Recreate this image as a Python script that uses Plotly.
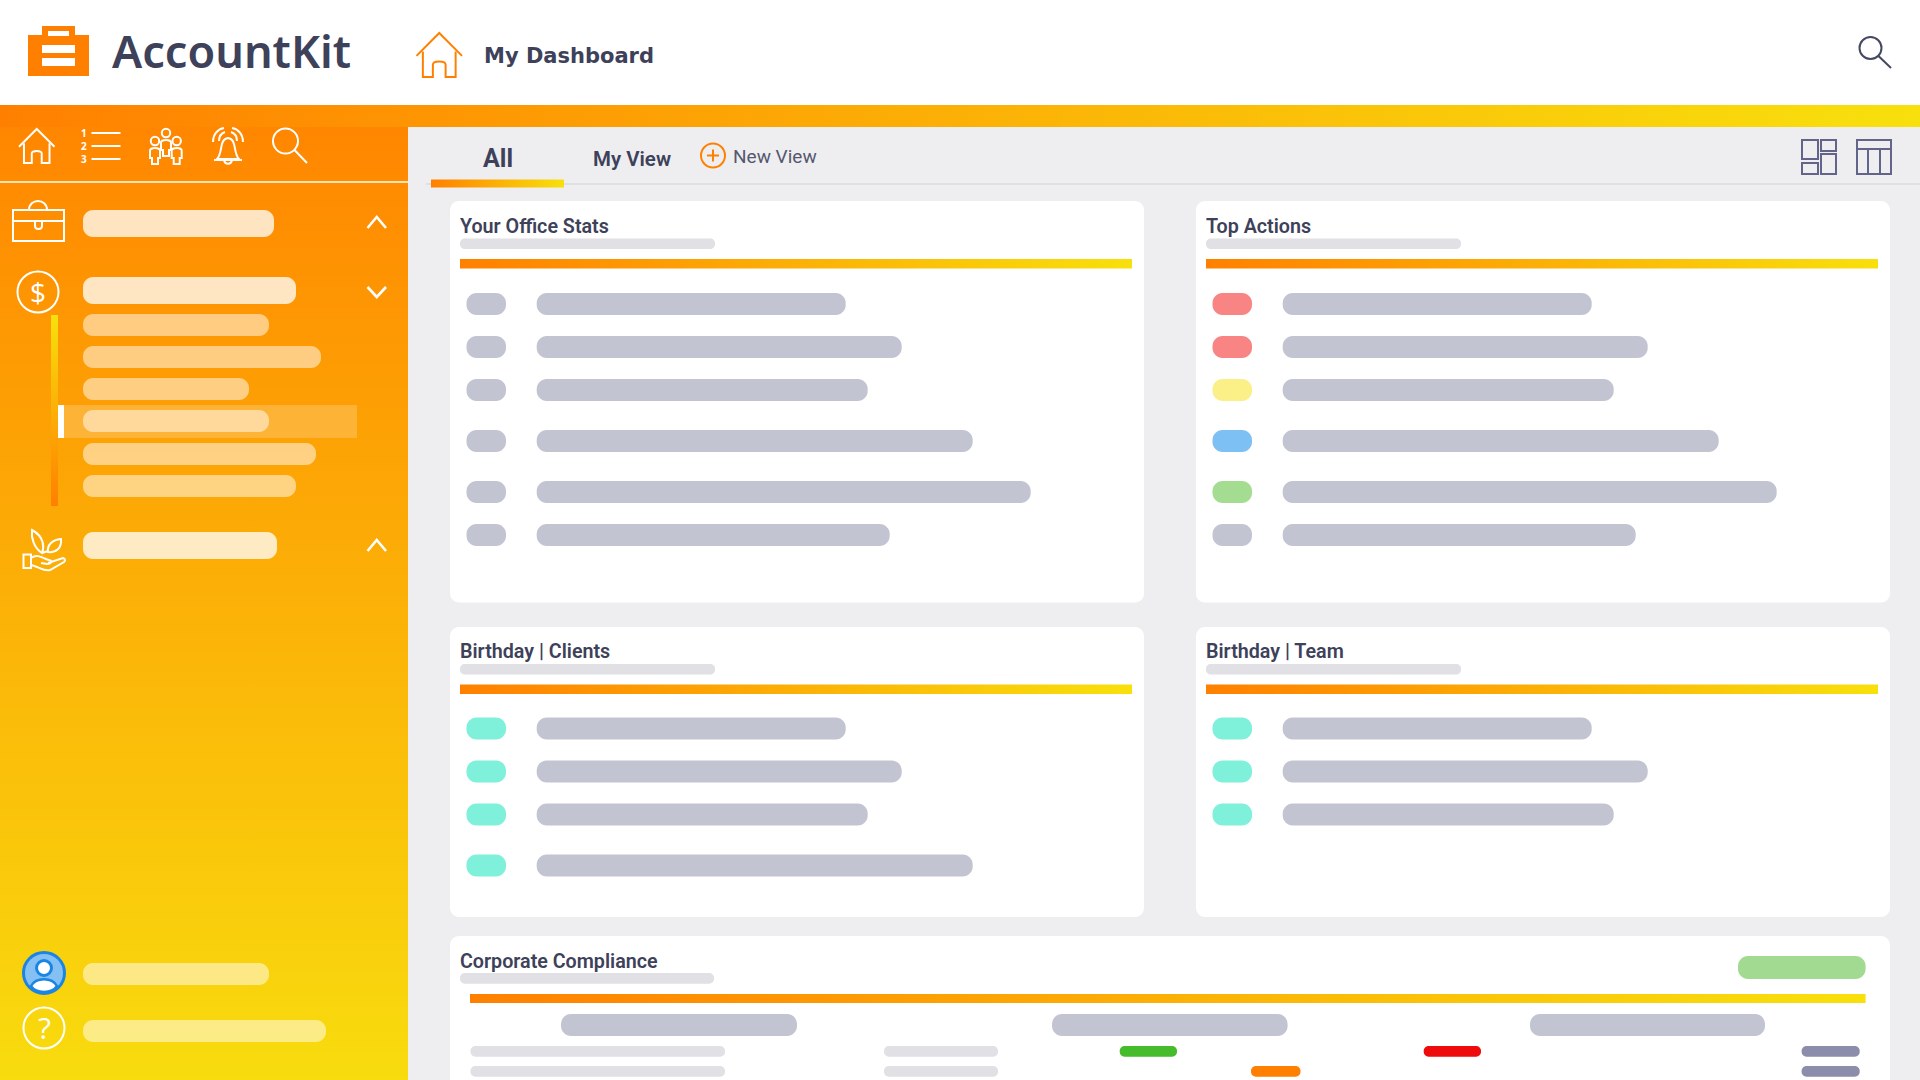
import plotly.graph_objects as go

# placeholder bar lengths
office_rows = [309, 365, 331, 436, 494, 353]
actions_rows = [309, 365, 331, 436, 494, 353]
clients_rows = [309, 365, 331, 436]
team_rows = [309, 365, 331]
nav_heads = [191, 213, 194]
nav_subs = [186, 238, 166, 186, 233, 213]
footer_rows = [186, 243]

office_tags = ['gray'] * 6
actions_tags = ['red', 'red', 'yellow', 'blue', 'green', 'gray']
clients_tags = ['teal'] * 4
team_tags = ['teal'] * 3

card_titles = ['Your Office Stats', 'Top Actions', 'Birthday | Clients', 'Birthday | Team', 'Corporate Compliance']
tab_labels = ['All', 'My View', 'New View']

TAG = {'gray': '#c3c4d2', 'red': '#f88484', 'yellow': '#fbf087', 'blue': '#7dc0f4', 'green': '#a4dc92', 'teal': '#7ff0da'}
INK = '#3d4159'
ORANGE = '#ff8000'
YELLOW = '#f8e00c'
BAR_GRAY = '#c3c4d2'
SUB_GRAY = '#e0e0e5'
SCALE = [[0, ORANGE], [1, YELLOW]]

shapes = []
traces = []
notes = []


def pill_path(x0, y0, x1, y1, r):
    k = r * 0.45
    return (f'M{x0+r},{y0} L{x1-r},{y0} C{x1-k},{y0} {x1},{y0+k} {x1},{y0+r} L{x1},{y1-r} '
            f'C{x1},{y1-k} {x1-k},{y1} {x1-r},{y1} L{x0+r},{y1} C{x0+k},{y1} {x0},{y1-k} {x0},{y1-r} '
            f'L{x0},{y0+r} C{x0},{y0+k} {x0+k},{y0} {x0+r},{y0} Z')


def pill(x0, y0, x1, y1, color, r=None, layer='above', opacity=1):
    r = min((y1 - y0) / 2 - 0.5, 10) if r is None else r
    shapes.append(dict(type='path', path=pill_path(x0, y0, x1, y1, r), fillcolor=color, opacity=opacity,
                       line=dict(width=0), layer=layer, xref='x', yref='y'))


def rect(x0, y0, x1, y1, color, layer='above', opacity=1):
    shapes.append(dict(type='rect', x0=x0, y0=y0, x1=x1, y1=y1, fillcolor=color, opacity=opacity,
                       line=dict(width=0), layer=layer))


def stroke(path, color='white', width=2, fill='rgba(0,0,0,0)'):
    shapes.append(dict(type='path', path=path, line=dict(color=color, width=width), fillcolor=fill, layer='above'))


def outline(x0, y0, x1, y1, color='white', width=2):
    shapes.append(dict(type='rect', x0=x0, y0=y0, x1=x1, y1=y1, line=dict(color=color, width=width),
                       fillcolor='rgba(0,0,0,0)', layer='above'))


def circle(cx, cy, r, color='white', width=2, fill='rgba(0,0,0,0)'):
    shapes.append(dict(type='circle', x0=cx - r, y0=cy - r, x1=cx + r, y1=cy + r,
                       line=dict(color=color, width=width), fillcolor=fill, layer='above'))


def gradient_bar(x0, y0, x1, y1, kind='horizontal', scale=SCALE):
    traces.append(go.Scatter(x=[x0, x1, x1, x0, x0], y=[y0, y0, y1, y1, y0], mode='lines', fill='toself',
                             line=dict(width=0), hoverinfo='skip', fillgradient=dict(type=kind, colorscale=scale)))


def label(text, x, y, size, color=INK, weight=400, family='Noto Sans', anchor='left'):
    notes.append(dict(text=text, x=x, y=y, xref='x', yref='y', xanchor=anchor, yanchor='middle', showarrow=False,
                      font=dict(size=size, color=color, weight=weight, family=family)))


def house(x0, y0, w, h, color):
    xc = x0 + w / 2
    ye = y0 + 0.52 * h
    stroke(f'M{x0},{ye} L{xc},{y0} L{x0+w},{ye}', color)
    wl, wr = x0 + 0.14 * w, x0 + 0.86 * w
    dl, dr = x0 + 0.36 * w, x0 + 0.64 * w
    yb = y0 + h
    yt = y0 + 0.72 * h
    stroke(f'M{wl},{y0+0.42*h} L{wl},{yb} L{dl},{yb} L{dl},{yt} C{dl},{yt-0.1*h} {dr},{yt-0.1*h} {dr},{yt} '
           f'L{dr},{yb} L{wr},{yb} L{wr},{y0+0.42*h}', color)


def magnifier(cx, cy, r, x1, y1, color, width=2):
    circle(cx, cy, r, color, width)
    stroke(f'M{cx+r*0.7},{cy+r*0.7} L{x1},{y1}', color, width)


def person(c, y):
    circle(c, y, 4.2)
    stroke(f'M{c-5},{y+17} L{c-5},{y+10} C{c-6},{y+6} {c+6},{y+6} {c+5},{y+10} L{c+5},{y+17} '
           f'L{c+3},{y+17} L{c+3},{y+23} L{c-3},{y+23} L{c-3},{y+17} Z')


def chevron(x0, x1, y_tip, y_base):
    stroke(f'M{x0},{y_base} L{(x0+x1)/2},{y_tip} L{x1},{y_base}', width=2.6)


# frame
rect(0, 0, 1920, 105, 'white', layer='below')
gradient_bar(0, 105, 1920, 127)
gradient_bar(0, 127, 408, 1080, 'vertical', [[0, '#f8dc0e'], [1, '#ff8600']])

# header
rect(28, 35, 89, 76, ORANGE)
rect(42, 26, 75, 36, ORANGE)
rect(48, 31, 69, 36, 'white')
rect(42, 45, 75, 53, 'white')
rect(42, 58, 75, 66, 'white')
label('AccountKit', 110, 50, 45, INK, 600)
house(416.5, 33, 45.5, 44, ORANGE)
label('My Dashboard', 482, 56, 21, INK, 700, 'DejaVu Sans')
magnifier(1870.5, 48, 11, 1891, 68, '#45495f')

# sidebar toolbar
house(19, 129, 35.5, 34, 'white')
label('1<br>2<br>3', 84, 146, 10, 'white', 700, anchor='center')
for i in range(3):
    rect(91.5, 132 + i * 13, 120.5, 134 + i * 13, 'white')
person(155, 141)
person(166, 133)
person(176.7, 141)
stroke('M217,159 C223,153 219,139 228,138 C237,139 233,153 239,159 Z')
stroke('M214,160 L242,160', width=2)
stroke('M224,160 C225,165 231,165 232,160')
stroke('M219,141 C219,136 222,133 225,132 M237,141 C237,136 234,133 231,132')
stroke('M213,142 C213,134 218,129 224,128 M243,142 C243,134 238,129 232,128')
magnifier(285.5, 141, 12.5, 307, 163, 'white')
rect(0, 181, 408, 183, '#ffe2b8')

# sidebar menu
y_heads = [(210, 237), (277, 304), (532, 559)]
for w, (y0, y1), a in zip(nav_heads, y_heads, [0.76, 0.76, 0.76]):
    pill(83, y0, 83 + w, y1, 'white', opacity=a)
chevron(367.5, 386, 217, 228)
chevron(367.5, 386, 297, 287)
chevron(367.5, 386, 540, 551)

outline(13, 210, 64, 241)
stroke('M13,221 L64,221')
stroke('M29,210 C29,198 47,198 47,210')
stroke('M35,221 L35,226 C35,230 42,230 42,226 L42,221')
circle(38, 292, 20.5)
label('$', 38, 292, 28, 'white', 400, 'Open Sans', 'center')

gradient_bar(51, 315, 58, 506, 'vertical', [[0, ORANGE], [1, YELLOW]])
rect(58, 405, 357, 438, 'white', opacity=0.2)
rect(58, 405, 64, 438, 'white')
y_subs = [314, 346, 378, 410, 443, 475]
for w, y in zip(nav_subs, y_subs):
    pill(83, y, 83 + w, y + 22, 'white', opacity=0.5)

# plant in a hand
stroke('M32,530 C31,538 34,548 42,553 C44,548 45,537 32,530 Z M42,553 L48,551')
stroke('M61,539 C52,540 47,545 48,552 C56,553 62,548 61,539 Z')
outline(23.5, 554.5, 31, 568)
stroke('M31,558 C38,553 44,559 49,560 C52,560 52,564 47,564 L41,563 M48,563 L63,558 C66,559 65,561 64,562 '
       'L50,570 C44,572 38,566 31,565')

# footer of the sidebar
circle(44, 973, 20.5, '#1a85e5', 3, '#85c0f2')
stroke('M31,986 C36,977 52,977 57,986 C52,994 36,994 31,986 Z', '#1a85e5', 2.5, 'white')
circle(44, 968, 7.5, '#1a85e5', 3, 'white')
circle(44, 1028, 20.5)
label('?', 44, 1027, 30, 'white', 400, 'Open Sans', 'center')
for w, (y0, y1) in zip(footer_rows, [(963, 985), (1020, 1042)]):
    pill(83, y0, 83 + w, y1, 'white', r=10, opacity=0.5)

# tabs
rect(426, 183, 1920, 185, '#e0e0e4', layer='below')
gradient_bar(431, 179.5, 564, 187.5)
label(tab_labels[0], 481, 158, 25, INK, 700, 'Roboto')
label(tab_labels[1], 591, 159, 20.5, INK, 600, 'Roboto')
circle(713, 155.5, 12, ORANGE, 2)
stroke('M707,155.5 L719,155.5 M713,149.5 L713,161.5', ORANGE, 2)
label(tab_labels[2], 731, 156, 19, '#55586e', 400, 'Roboto')

for x0, x1, y0, y1 in [(1802, 1818, 140, 159), (1821, 1836, 140, 151), (1802, 1818, 163, 174), (1821, 1836, 154, 174),
                       (1857, 1891, 140, 174)]:
    outline(x0, y0, x1, y1, '#62648a')
stroke('M1857,149 L1891,149 M1868,149 L1868,174 M1880,149 L1880,174', '#62648a')

# cards
ROW_Y_TOP = [293, 336, 379, 430, 481, 524]
ROW_Y_LOW = [717.5, 760.5, 803.5, 854.5]
CARD_TOP = [(450, 201, 1144, 602.5), (1196, 201, 1890, 602.5), (450, 627, 1144, 917), (1196, 627, 1890, 917),
            (450, 936, 1890, 1100)]
for x0, y0, x1, y1 in CARD_TOP:
    pill(x0, y0, x1, y1, 'white', r=9, layer='below')


def card(x0, y0, title, tags, rows, row_ys):
    label(title, x0 + 7.5, y0 + 25, 19.7, INK, 600, 'Roboto')
    pill(x0 + 10, y0 + 37.5, x0 + 265, y0 + 48, SUB_GRAY)
    gradient_bar(x0 + 10, y0 + 58, x0 + 682, y0 + 67.5)
    for tag, w, y in zip(tags, rows, row_ys):
        pill(x0 + 16.5, y, x0 + 56, y + 22, TAG[tag])
        pill(x0 + 86.7, y, x0 + 86.7 + w, y + 22, BAR_GRAY)


card(450, 201, card_titles[0], office_tags, office_rows, ROW_Y_TOP)
card(1196, 201, card_titles[1], actions_tags, actions_rows, ROW_Y_TOP)
card(450, 626.5, card_titles[2], clients_tags, clients_rows, ROW_Y_LOW)
card(1196, 626.5, card_titles[3], team_tags, team_rows, ROW_Y_LOW)

# compliance card
label(card_titles[4], 457.5, 961, 19.7, INK, 600, 'Roboto')
pill(460, 973, 714, 983.7, SUB_GRAY)
pill(1738, 956, 1865.6, 979, '#a3da92')
gradient_bar(470, 994, 1865.6, 1003)
for x0, x1 in [(561, 797), (1052, 1287.6), (1530, 1765)]:
    pill(x0, 1014, x1, 1036, BAR_GRAY)
for y in [1046, 1066]:
    pill(470.5, y, 725, y + 10.7, SUB_GRAY)
    pill(884, y, 998, y + 10.7, SUB_GRAY)
    pill(1801.6, y, 1859.7, y + 10.7, '#8c8dab')
pill(1119.7, 1046, 1177, 1056.7, '#46bb2b')
pill(1423.7, 1046, 1481, 1056.7, '#ee0b0b')
pill(1251, 1066, 1300.5, 1076.7, ORANGE)

fig = go.Figure(traces)
fig.update_layout(
    width=1920,
    height=1080,
    margin=dict(l=0, r=0, t=0, b=0),
    showlegend=False,
    paper_bgcolor='#eeeef0',
    plot_bgcolor='#eeeef0',
    shapes=shapes,
    annotations=notes,
    xaxis=dict(range=[0, 1920], visible=False, fixedrange=True),
    yaxis=dict(range=[1080, 0], visible=False, fixedrange=True),
)

fig.write_html('out.html', config={'displayModeBar': False},
               post_script="document.body.style.margin='0';document.body.style.overflow='hidden';")
